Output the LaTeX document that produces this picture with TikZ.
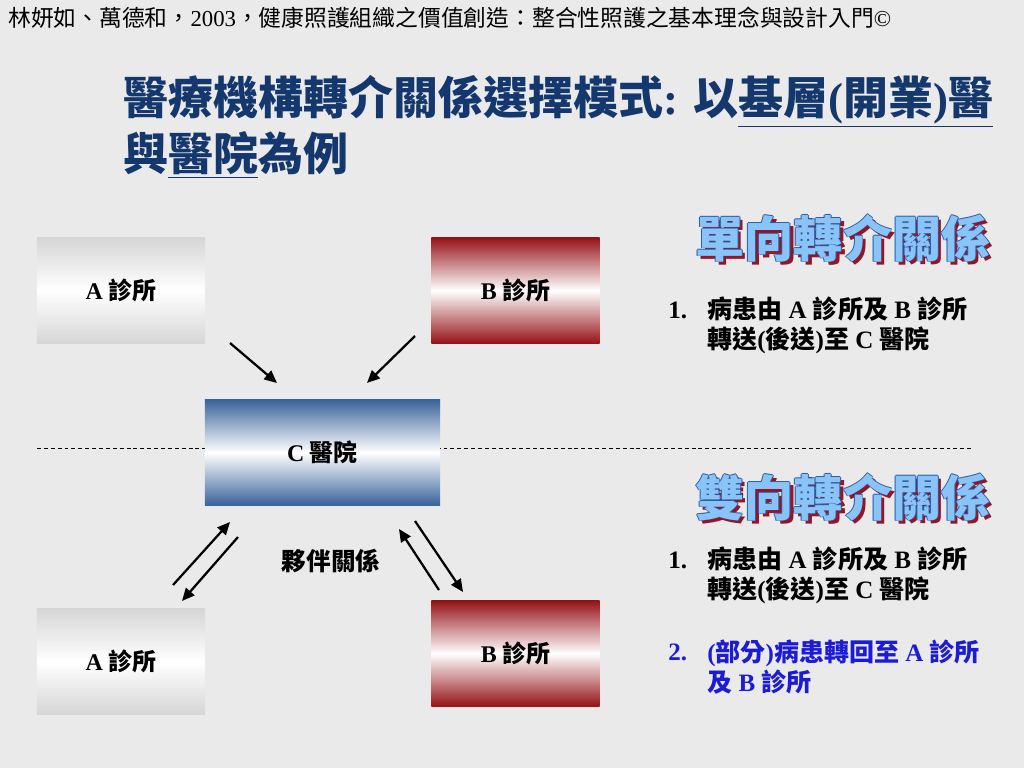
\documentclass[tikz,border=0pt]{standalone}
\usepackage{fontspec}
\setmainfont{Liberation Serif}
\newfontfamily\cjk{Noto Sans CJK TC}
\newcommand\tn[1]{{\rmfamily #1}}
\usetikzlibrary{arrows.meta,positioning,calc}

\definecolor{bggray}{RGB}{234,234,234}
\definecolor{navy}{RGB}{20,56,110}
\definecolor{cblue}{RGB}{58,100,155}
\definecolor{bred}{RGB}{150,20,25}
\definecolor{agray}{RGB}{214,214,214}
\definecolor{shred}{RGB}{150,20,35}
\definecolor{olblue}{RGB}{40,95,175}
\definecolor{flblue}{RGB}{138,195,245}
\definecolor{txblue}{RGB}{28,28,215}

\begin{document}
\begin{tikzpicture}[x=0.025cm,y=-0.025cm,
  box/.style={minimum width=4.2cm,minimum height=2.625cm,inner sep=0pt,font=\cjk\bfseries\fontsize{17pt}{20pt}\selectfont},
  abox/.style={box,top color=agray,bottom color=agray,middle color=white},
  bbox/.style={box,top color=bred,bottom color=bred,middle color=white},
  cbox/.style={box,minimum width=5.875cm,top color=cblue,bottom color=cblue,middle color=white},
  wordart/.style={inner sep=0pt,font=\cjk\bfseries\fontsize{35pt}{40pt}\selectfont},
  item/.style={anchor=west,inner sep=0pt,align=left,font=\cjk\bfseries\fontsize{17.8pt}{21.3pt}\selectfont},
  arr/.style={-{Triangle[length=9pt,width=8pt]},line width=1.6pt}]
  \useasboundingbox[fill=bggray] (0,0) rectangle (1024,768);

  % header and title
  \node[anchor=west,inner sep=0pt,font=\cjk\fontsize{16.2pt}{18pt}\selectfont] (hdr) at (8,18)
    {林妍如、萬德和，\tn{2003}，健康照護組織之價值創造：整合性照護之基本理念與設計入門\tn{©}};
  \node[anchor=north west,inner sep=0pt,align=left,text=navy,font=\cjk\bfseries\fontsize{32pt}{40pt}\selectfont] (title) at (123,75)
    {醫療機構轉介關係選擇模式\tn{: }以\underline{基層\tn{(}開業\tn{)}醫}\\與\underline{醫院}為例};

  % dashed divider
  \coordinate (d1) at (37,448);
  \coordinate (d2) at (972,448);
  \draw[dash pattern=on 2.8pt off 2.1pt,line width=0.6pt] (d1) -- (d2);

  % clinics and hospital
  \node[abox] (a1) at (121,290.5) {\tn{A} 診所};
  \node[bbox] (b1) at (515.5,290.5) {\tn{B} 診所};
  \node[cbox] (c) at (322.5,452.5) {\tn{C} 醫院};
  \node[abox] (a2) at (121,661.5) {\tn{A} 診所};
  \node[bbox] (b2) at (515.5,653.5) {\tn{B} 診所};
  \node[font=\cjk\bfseries\fontsize{17.5pt}{20pt}\selectfont,inner sep=0pt] (p) at (331,561) {夥伴關係};

  % one-way referrals
  \coordinate (s1) at (230,343);
  \coordinate (e1) at (277,383);
  \coordinate (s2) at (415,336);
  \coordinate (e2) at (367,383);
  \draw[arr] (s1) -- (e1);
  \draw[arr] (s2) -- (e2);

  % two-way referrals
  \coordinate (s3) at (173,585);
  \coordinate (e3) at (230,522);
  \coordinate (s4) at (238,537);
  \coordinate (e4) at (182,601);
  \coordinate (s5) at (439,590);
  \coordinate (e5) at (399,529);
  \coordinate (s6) at (415,521);
  \coordinate (e6) at (463,592);
  \draw[arr] (s3) -- (e3);
  \draw[arr] (s4) -- (e4);
  \draw[arr] (s5) -- (e5);
  \draw[arr] (s6) -- (e6);

  % headings
  \node[wordart,text=shred] at (846.5,241.5) {單向轉介關係};
  \foreach \dx/\dy in {-0.8/0,0.8/0,0/-0.8,0/0.8}
    \node[wordart,text=olblue] at (843+\dx,238+\dy) {單向轉介關係};
  \node[wordart,text=flblue] (h1) at (843,238) {單向轉介關係};
  \node[wordart,text=shred] at (846.5,500.5) {雙向轉介關係};
  \foreach \dx/\dy in {-0.8/0,0.8/0,0/-0.8,0/0.8}
    \node[wordart,text=olblue] at (843+\dx,497+\dy) {雙向轉介關係};
  \node[wordart,text=flblue] (h2) at (843,497) {雙向轉介關係};

  % notes
  \node[item] (n1) at (668,310) {\tn{1.}};
  \node[item] (t1) at (707,325) {病患由\tn{ A }診所及\tn{ B }診所\\轉送\tn{(}後送\tn{)}至\tn{ C }醫院};
  \node[item] (n2) at (668,560) {\tn{1.}};
  \node[item] (t2) at (707,575) {病患由\tn{ A }診所及\tn{ B }診所\\轉送\tn{(}後送\tn{)}至\tn{ C }醫院};
  \node[item,text=txblue] (n3) at (668,652) {\tn{2.}};
  \node[item,text=txblue] (t3) at (707,667) {\tn{(}部分\tn{)}病患轉回至\tn{ A }診所\\及\tn{ B }診所};
\end{tikzpicture}
\end{document}
